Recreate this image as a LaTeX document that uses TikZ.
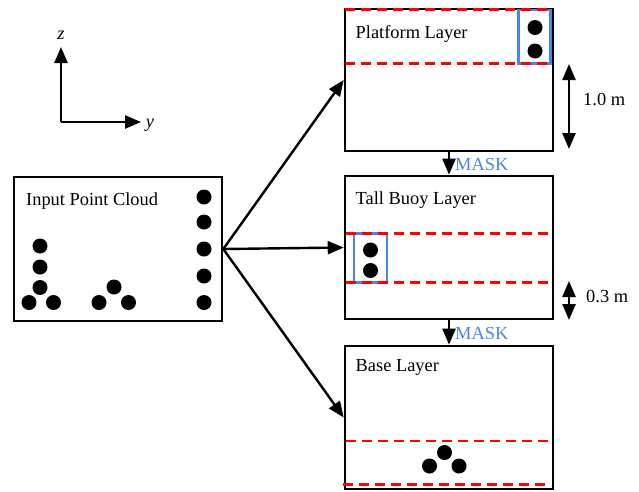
\documentclass[tikz,border=0pt]{standalone}
\usepackage{fontspec}
\setmainfont{Liberation Serif}
\usetikzlibrary{arrows.meta}
\definecolor{maskblue}{RGB}{74,134,232}
\tikzset{
  box/.style={draw=black, line width=2.6pt, minimum width=208pt, minimum height=#1, inner sep=0pt, fill=none},
  lbl/.style={anchor=west, inner sep=0pt, font=\fontsize{18.4}{22}\selectfont},
  pt/.style={fill=black},
  flow/.style={line width=2.4pt, -{Triangle[length=16pt,width=13pt]}},
  dim/.style={line width=2.4pt, {Triangle[length=16pt,width=13pt]}-{Triangle[length=16pt,width=13pt]}},
  cut/.style={red, line width=2.6pt, dash pattern=on 10pt off 6pt},
  roi/.style={draw=maskblue, line width=2.4pt},
}
\begin{document}
\begin{tikzpicture}[x=1pt,y=-1pt]
\useasboundingbox (0,0) rectangle (639,491);
% axes
\coordinate (ax) at (61,122);
\coordinate (zt) at (61,47);
\coordinate (yt) at (141,122);
\draw[flow] (ax) -- (zt);
\draw[flow] (ax) -- (yt);
\node[lbl, anchor=center, font=\fontsize{18.4}{22}\selectfont\itshape] (zl) at (61,35) {z};
\node[lbl, anchor=center, font=\fontsize{18.4}{22}\selectfont\itshape] (yl) at (150,125) {y};

% boxes
\node[box=144pt] (inp) at (118,249) {};
\node[box=142pt] (plat) at (449,80) {};
\node[box=143pt] (tall) at (449,247.5) {};
\node[box=143pt] (base) at (449,417.5) {};

% labels
\node[lbl] (tinp) at (26,201) {Input Point Cloud};
\node[lbl] (tplat) at (355.5,34) {Platform Layer};
\node[lbl] (ttall) at (355.5,200) {Tall Buoy Layer};
\node[lbl] (tbase) at (355.5,367.5) {Base Layer};

% input points
\foreach \x/\y in {204/197,204/222,204/249,204/276,204/302.5,
                   40/246,40/267,40/287.5,29/302.5,53.5/302.5,
                   114/287,99/302.5,128.5/302.5}
  \fill[pt] (\x,\y) circle (7.5);

% platform layer
\draw[roi] (518.5,10) rectangle (550.5,63.5);
\draw[cut] (345,9.5) -- (553,9.5);
\draw[cut] (345,63.5) -- (553,63.5);
\fill[pt] (535,27.5) circle (7.5);
\fill[pt] (535,51) circle (7.5);

% tall buoy layer
\draw[roi] (354,233.5) rectangle (387,282.5);
\draw[cut] (346,233.5) -- (553,233.5);
\draw[cut] (346,282.5) -- (553,282.5);
\fill[pt] (370.5,250) circle (7.5);
\fill[pt] (370.5,270.5) circle (7.5);

% base layer
\draw[cut] (346,441) -- (553,441);
\draw[cut] (343,484.5) -- (551,484.5);
\fill[pt] (429.5,466) circle (7.5);
\fill[pt] (444.5,452.5) circle (7.5);
\fill[pt] (459,466) circle (7.5);

% flow arrows
\draw[flow] (inp.east) -- (plat.west);
\draw[flow] (inp.east) -- (tall.west);
\draw[flow] (inp.east) -- (base.west);
\draw[flow] (plat.south) -- (tall.north) node[midway, right, inner sep=0pt, xshift=5pt, yshift=-1pt, text=maskblue, font=\fontsize{18.4}{22}\selectfont] (m1) {MASK};
\draw[flow] (tall.south) -- (base.north) node[midway, right, inner sep=0pt, xshift=5pt, yshift=-1pt, text=maskblue, font=\fontsize{18.4}{22}\selectfont] (m2) {MASK};

% dimensions
\coordinate (d1a) at (569,64);
\coordinate (d1b) at (569,149);
\draw[dim] (d1a) -- (d1b);
\node[lbl] (l1) at (583,100) {1.0 m};
\coordinate (d2a) at (569,281);
\coordinate (d2b) at (569,320);
\draw[dim] (d2a) -- (d2b);
\node[lbl] (l2) at (586,297) {0.3 m};
\end{tikzpicture}
\end{document}
